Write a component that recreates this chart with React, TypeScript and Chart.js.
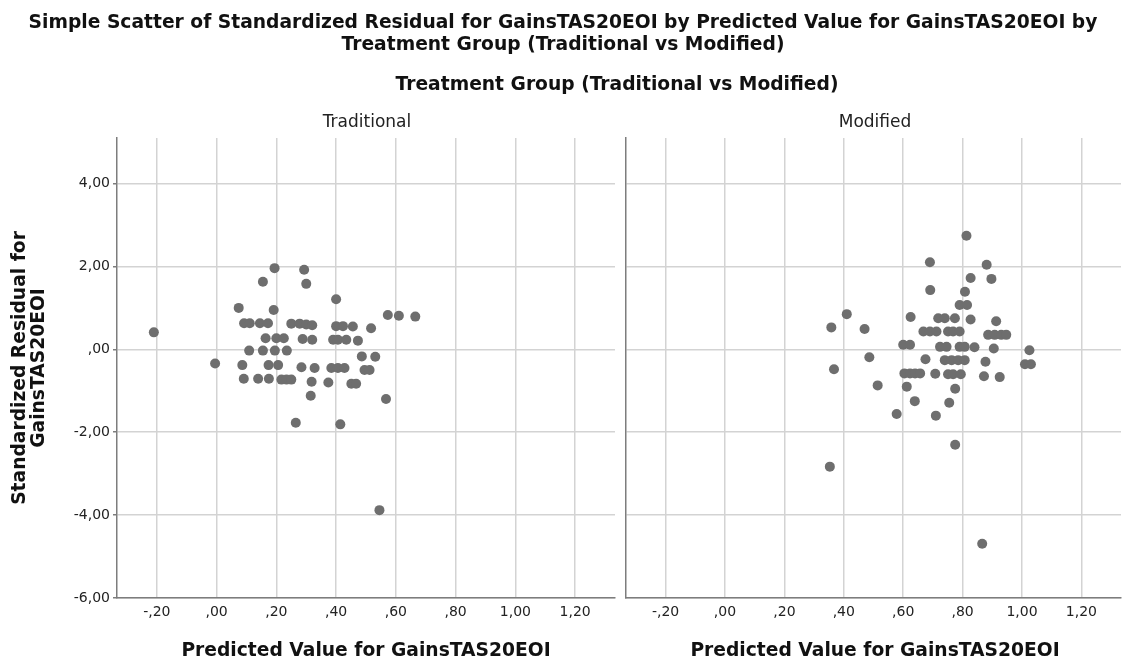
import React, { useEffect, useRef } from "react";
import { Chart, registerables } from "chart.js";
Chart.register(...registerables);

const xTickValues = [-0.2, 0, 0.2, 0.4, 0.6, 0.8, 1.0, 1.2];
const yTickValues = [-6, -4, -2, 0, 2, 4];

const traditionalX = [
  -0.21, -0.005, 0.074, 0.194, 0.293, 0.155, 0.30, 0.191, 0.40,
  0.092, 0.111, 0.145, 0.172, 0.25, 0.278, 0.30, 0.32,
  0.40, 0.423, 0.456, 0.517,
  0.573, 0.61, 0.665,
  0.164, 0.20, 0.225, 0.288, 0.32, 0.39, 0.406, 0.434, 0.473,
  0.109, 0.155, 0.195, 0.235,
  0.486, 0.531,
  0.086, 0.174, 0.206,
  0.284, 0.328, 0.384, 0.406, 0.428, 0.495, 0.512,
  0.091, 0.139, 0.175, 0.217, 0.234, 0.25,
  0.318, 0.374, 0.451, 0.467,
  0.315, 0.567, 0.265, 0.414, 0.545,
];
const traditionalY = [
  0.41, -0.34, 1.0, 1.96, 1.92, 1.63, 1.58, 0.95, 1.21,
  0.63, 0.63, 0.63, 0.63, 0.62, 0.62, 0.6, 0.58,
  0.56, 0.56, 0.55, 0.51,
  0.83, 0.81, 0.79,
  0.27, 0.27, 0.27, 0.25, 0.23, 0.23, 0.23, 0.23, 0.21,
  -0.03, -0.03, -0.03, -0.03,
  -0.17, -0.18,
  -0.38, -0.38, -0.38,
  -0.43, -0.45, -0.45, -0.45, -0.45, -0.5, -0.5,
  -0.71, -0.71, -0.71, -0.73, -0.73, -0.73,
  -0.78, -0.8, -0.83, -0.83,
  -1.12, -1.2, -1.77, -1.81, -3.88,
];

const modifiedX = [
  0.353, 0.358, 0.367, 0.41, 0.47, 0.486, 0.514, 0.578, 0.612, 0.639,
  0.604, 0.623, 0.64, 0.657, 0.708, 0.751, 0.768, 0.794, 0.872, 0.925,
  0.775, 0.755, 0.71, 0.775, 0.866,
  0.813, 0.69, 0.881, 0.827, 0.897, 0.691, 0.808, 0.79, 0.815,
  0.625, 0.718, 0.74, 0.774, 0.827, 0.913,
  0.668, 0.69, 0.712, 0.751, 0.768, 0.79,
  0.886, 0.908, 0.93, 0.947,
  0.60, 0.623,
  0.724, 0.746, 0.79, 0.807, 0.84, 0.905, 1.025, 0.675,
  0.74, 0.763, 0.785, 0.807, 0.877, 1.01, 1.03,
];
const modifiedY = [
  -2.83, 0.53, -0.48, 0.85, 0.49, -0.19, -0.87, -1.56, -0.9, -1.25,
  -0.58, -0.58, -0.58, -0.58, -0.59, -0.6, -0.6, -0.6, -0.65, -0.67,
  -0.95, -1.29, -1.6, -2.3, -4.69,
  2.74, 2.1, 2.04, 1.72, 1.7, 1.43, 1.39, 1.07, 1.07,
  0.78, 0.75, 0.75, 0.75, 0.72, 0.68,
  0.43, 0.43, 0.43, 0.43, 0.43, 0.43,
  0.35, 0.35, 0.35, 0.35,
  0.11, 0.11,
  0.06, 0.06, 0.06, 0.06, 0.05, 0.02, -0.02, -0.24,
  -0.26, -0.26, -0.26, -0.26, -0.3, -0.36, -0.36,
];

const X_MIN = -1 / 3;
const X_MAX = 4 / 3;
const Y_MIN = -6;
const Y_MAX = 5.1;

const FONT = "'DejaVu Sans', Verdana, sans-serif";
const BOLD_SIZE = 18.7;

function fmt(v: number): string {
  let s = Math.abs(v).toFixed(2).replace(".", ",");
  if (s.startsWith("0,")) s = s.slice(1);
  return (v < -1e-9 ? "-" : "") + s;
}

type PanelProps = {
  xs: number[];
  ys: number[];
  left: number;
  width: number;
  yAxisWidth: number;
  padRight: number;
  showYLabels: boolean;
};

function Panel({ xs, ys, left, width, yAxisWidth, padRight, showYLabels }: PanelProps) {
  const ref = useRef<HTMLCanvasElement | null>(null);
  useEffect(() => {
    if (!ref.current) return;
    const data = xs.map((x, i) => ({ x, y: ys[i] }));
    const chart = new Chart(ref.current, {
      type: "scatter",
      data: {
        datasets: [
          {
            data,
            backgroundColor: "#6e6e6e",
            borderWidth: 0,
            pointRadius: 5,
          },
        ],
      },
      options: {
        animation: false,
        responsive: false,
        maintainAspectRatio: false,
        layout: { padding: { top: 138, right: padRight, left: 0, bottom: 0 } },
        plugins: { legend: { display: false }, tooltip: { enabled: false } },
        scales: {
          x: {
            type: "linear",
            min: X_MIN,
            max: X_MAX,
            afterBuildTicks: (s: any) => {
              s.ticks = xTickValues.map((v) => ({ value: v }));
            },
            afterFit: (s: any) => {
              s.height = 64;
            },
            grid: { color: "#d3d3d3", lineWidth: 1.5, drawTicks: false },
            border: { color: "#7d7d7d", width: 1.5 },
            ticks: {
              autoSkip: false,
              maxRotation: 0,
              padding: 6,
              color: "#222",
              font: { family: FONT, size: 14 },
              callback: (v: any) => fmt(Number(v)),
            },
          },
          y: {
            type: "linear",
            min: Y_MIN,
            max: Y_MAX,
            afterBuildTicks: (s: any) => {
              s.ticks = yTickValues.map((v) => ({ value: v }));
            },
            afterFit: (s: any) => {
              s.width = yAxisWidth;
            },
            grid: { color: "#d3d3d3", lineWidth: 1.5, drawTicks: showYLabels, tickLength: 4, tickColor: "#7d7d7d" },
            border: { color: "#7d7d7d", width: 1.5 },
            ticks: {
              display: showYLabels,
              autoSkip: false,
              padding: 3,
              color: "#222",
              font: { family: FONT, size: 14 },
              callback: (v: any) => fmt(Number(v)),
            },
          },
        },
      },
    } as any);
    return () => chart.destroy();
  }, []);
  return (
    <canvas
      ref={ref}
      width={width}
      height={662}
      style={{ position: "absolute", left, top: 0, width, height: 662 }}
    />
  );
}

const boldText: React.CSSProperties = {
  position: "absolute",
  fontFamily: FONT,
  fontWeight: "bold",
  color: "#111",
  whiteSpace: "nowrap",
  textAlign: "center",
};

export default function App() {
  return (
    <div
      style={{
        position: "absolute",
        left: 0,
        top: 0,
        width: 1126,
        height: 662,
        background: "#fff",
        overflow: "hidden",
      }}
    >
      <Panel xs={traditionalX} ys={traditionalY} left={0} width={620} yAxisWidth={117} padRight={5} showYLabels={true} />
      <Panel xs={modifiedX} ys={modifiedY} left={620} width={506} yAxisWidth={6} padRight={2} showYLabels={false} />
      <div style={{ ...boldText, left: 0, width: 1126, top: 11, fontSize: BOLD_SIZE, lineHeight: "22px" }}>
        Simple Scatter of Standardized Residual for GainsTAS20EOI by Predicted Value for GainsTAS20EOI by
        <br />
        Treatment Group (Traditional vs Modified)
      </div>
      <div style={{ ...boldText, left: 267, width: 700, top: 72, fontSize: BOLD_SIZE, lineHeight: "24px" }}>
        Treatment Group (Traditional vs Modified)
      </div>
      <div style={{ ...boldText, fontWeight: "normal", left: 267, width: 200, top: 111, fontSize: 17, color: "#222" }}>
        Traditional
      </div>
      <div style={{ ...boldText, fontWeight: "normal", left: 775, width: 200, top: 111, fontSize: 17, color: "#222" }}>
        Modified
      </div>
      <div style={{ ...boldText, left: 116, width: 500, top: 638, fontSize: BOLD_SIZE, lineHeight: "24px" }}>
        Predicted Value for GainsTAS20EOI
      </div>
      <div style={{ ...boldText, left: 625, width: 500, top: 638, fontSize: BOLD_SIZE, lineHeight: "24px" }}>
        Predicted Value for GainsTAS20EOI
      </div>
      <div
        style={{
          ...boldText,
          left: 29 - 200,
          top: 368 - 20,
          width: 400,
          fontSize: BOLD_SIZE,
          lineHeight: "19px",
          transform: "rotate(-90deg)",
          transformOrigin: "50% 50%",
          height: 40,
        }}
      >
        Standardized Residual for
        <br />
        GainsTAS20EOI
      </div>
    </div>
  );
}
